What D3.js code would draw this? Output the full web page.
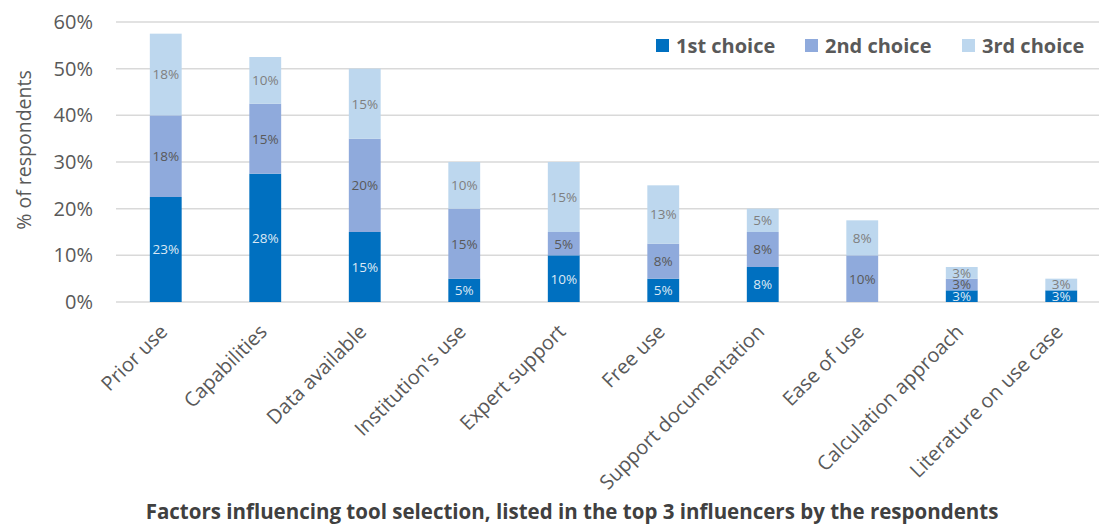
<!DOCTYPE html>
<html>
<head>
<meta charset="utf-8">
<script src="https://cdn.jsdelivr.net/npm/d3@7"></script>
<style>
  html, body { margin: 0; padding: 0; background: #fff; }
  svg { display: block; font-family: "Open Sans", "Noto Sans", sans-serif; }
</style>
</head>
<body>
<svg id="chart" width="1099" height="525"></svg>
<script>
// Factors influencing tool selection (% of respondents)
const categories = ["Prior use", "Capabilities", "Data available", "Institution's use", "Expert support",
  "Free use", "Support documentation", "Ease of use", "Calculation approach", "Literature on use case"];
const seriesNames = ["1st choice", "2nd choice", "3rd choice"];
const firstChoice  = [22.5, 27.5, 15, 5, 10, 5, 7.5, 0, 2.5, 2.5];
const secondChoice = [17.5, 15, 20, 15, 5, 7.5, 7.5, 10, 2.5, 0];
const thirdChoice  = [17.5, 10, 15, 10, 15, 12.5, 5, 7.5, 2.5, 2.5];
const yTicks = [0, 10, 20, 30, 40, 50, 60];

const colors = ["#0070C0", "#8FAADC", "#BDD7EE"];
const labelColors = ["#DCE8F4", "#595959", "#7F7F7F"];

const svg = d3.select("#chart");
const W = 1099;
const plotLeft = 116, plotRight = 1111, plotTop = 22, plotBottom = 302;

const rows = categories.map((c, i) => ({
  cat: c,
  "1st choice": firstChoice[i],
  "2nd choice": secondChoice[i],
  "3rd choice": thirdChoice[i]
}));
const stacked = d3.stack().keys(seriesNames)(rows);

const x = d3.scaleBand().domain(categories).range([plotLeft, plotRight]).paddingInner(0.68).paddingOuter(0.34);
const y = d3.scaleLinear().domain([0, 60]).range([plotBottom, plotTop]);

// gridlines
svg.append("g").selectAll("line").data(yTicks).join("line")
  .attr("x1", plotLeft).attr("x2", W)
  .attr("y1", d => y(d)).attr("y2", d => y(d))
  .attr("stroke", "#D9D9D9").attr("stroke-width", 1.5);

// y axis labels
const yAxis = d3.axisLeft(y).tickValues(yTicks).tickFormat(d => d + "%").tickSize(0).tickPadding(0);
const gy = svg.append("g").attr("transform", `translate(93,0)`).call(yAxis);
gy.select(".domain").remove();
gy.selectAll("text").attr("fill", "#595959").style("font-size", "20px")
  .style("font-family", "'Open Sans', sans-serif");

// y axis title
svg.append("text")
  .attr("transform", `translate(24,150) rotate(-90)`)
  .attr("dy", "0.35em")
  .attr("text-anchor", "middle")
  .attr("fill", "#595959").style("font-size", "19.5px")
  .text("% of respondents");

// bars
const layers = svg.append("g").selectAll("g").data(stacked).join("g")
  .attr("fill", (d, i) => colors[i]);
layers.selectAll("rect").data(d => d).join("rect")
  .attr("x", d => x(d.data.cat))
  .attr("width", x.bandwidth())
  .attr("y", d => y(d[1]))
  .attr("height", d => y(d[0]) - y(d[1]));

// segment value labels
stacked.forEach((layer, si) => {
  svg.append("g").selectAll("text").data(layer.filter(d => d[1] - d[0] > 0)).join("text")
    .attr("x", d => x(d.data.cat) + x.bandwidth() / 2)
    .attr("y", d => (y(d[0]) + y(d[1])) / 2)
    .attr("dy", "0.36em")
    .attr("text-anchor", "middle")
    .attr("fill", labelColors[si])
    .style("font-size", "13.5px")
    .text(d => Math.round(d[1] - d[0]) + "%");
});

// x axis category labels
const xAxis = d3.axisBottom(x).tickSize(0).tickPadding(0);
const gx = svg.append("g").attr("transform", `translate(0,${plotBottom})`).call(xAxis);
gx.select(".domain").remove();
gx.selectAll("text")
  .attr("fill", "#595959").style("font-size", "20px")
  .style("font-family", "'Open Sans', sans-serif")
  .attr("text-anchor", "end")
  .attr("dy", null)
  .attr("y", null)
  .attr("transform", "translate(3,31) rotate(-45)");

// legend
const legendX = [656, 805, 962];
const legend = svg.append("g").selectAll("g").data(seriesNames).join("g")
  .attr("transform", (d, i) => `translate(${legendX[i]},39)`);
legend.append("rect").attr("width", 13).attr("height", 13).attr("fill", (d, i) => colors[i]);
legend.append("text").attr("x", 20).attr("y", 6.5).attr("dy", "0.36em")
  .attr("fill", "#595959").style("font-size", "20px").style("font-weight", "bold")
  .text(d => d);

// axis title
svg.append("text")
  .attr("x", 572).attr("y", 519)
  .attr("text-anchor", "middle")
  .attr("fill", "#404040").style("font-size", "20.5px").style("font-weight", "bold")
  .text("Factors influencing tool selection, listed in the top 3 influencers by the respondents");
</script>
</body>
</html>
